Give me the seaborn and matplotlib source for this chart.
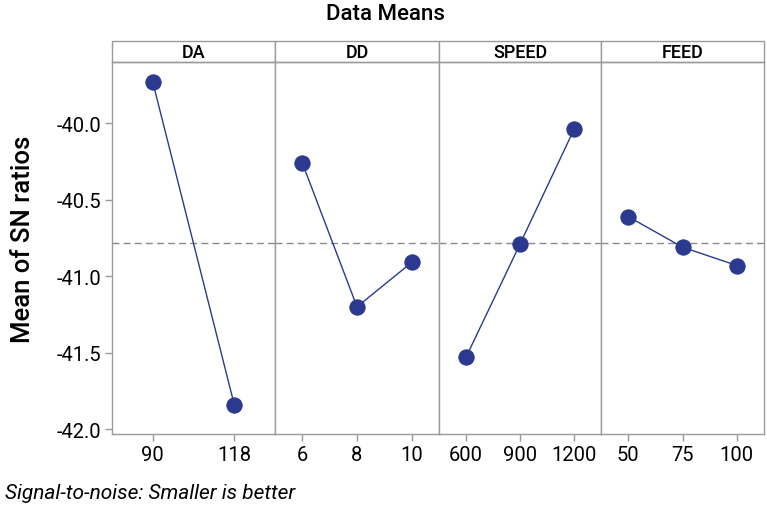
import matplotlib
matplotlib.use("Agg")
import matplotlib.pyplot as plt
from matplotlib.patches import Rectangle
import seaborn as sns
import pandas as pd

factors = ["DA", "DD", "SPEED", "FEED"]
levels = {
    "DA": ["90", "118"],
    "DD": ["6", "8", "10"],
    "SPEED": ["600", "900", "1200"],
    "FEED": ["50", "75", "100"],
}
da_means = [-39.73, -41.84]
dd_means = [-40.26, -41.20, -40.91]
speed_means = [-41.53, -40.79, -40.04]
feed_means = [-40.61, -40.81, -40.93]
yticks = [-40.0, -40.5, -41.0, -41.5, -42.0]

values = {"DA": da_means, "DD": dd_means, "SPEED": speed_means, "FEED": feed_means}
rows = []
for f in factors:
    for lv, v in zip(levels[f], values[f]):
        rows.append({"factor": f, "level": lv, "sn": v})
df = pd.DataFrame(rows)
grand_mean = sum(da_means) / len(da_means)

sns.set_style("white")
plt.rcParams["font.family"] = ["Roboto", "DejaVu Sans"]
plt.rcParams["text.color"] = "black"
plt.rcParams["xtick.color"] = "black"
plt.rcParams["ytick.color"] = "black"

fig = plt.figure(figsize=(7.67, 5.10), dpi=100)
L, R, B, T = 112 / 767, 764 / 767, 1 - 435 / 510, 1 - 63.3 / 510
widths = [163, 164, 162, 163]
tot = sum(widths)
axes = []
x0 = L
color = "#2B3A8F"
edge = "#9a9a9a"
for i, f in enumerate(factors):
    w = (R - L) * widths[i] / tot
    ax = fig.add_axes([x0, B, w, T - B])
    x0 += w
    axes.append(ax)
    sub = df[df["factor"] == f]
    sns.pointplot(data=sub, x="level", y="sn", order=levels[f], color=color,
                  errorbar=None, markersize=11, linewidth=1.0, ax=ax)
    n = len(levels[f])
    ax.set_xlim(-0.5, n - 0.5)
    ax.set_ylim(-42.032, -39.601)
    ax.axhline(grand_mean, color="#8a8a8a", linestyle=(0, (5, 3)), linewidth=1.0, zorder=0)
    for s in ax.spines.values():
        s.set_color(edge)
        s.set_linewidth(1.0)
    ax.set_xlabel("")
    ax.set_ylabel("")
    ax.tick_params(axis="x", length=5, width=1, color=edge, labelcolor="black",
                   labelsize=14.5, pad=3, direction="out", bottom=True)
    ax.set_yticks(yticks)
    if i == 0:
        ax.set_yticklabels([f"{t:.1f}" for t in yticks])
        ax.tick_params(axis="y", length=5, width=1, color=edge, labelcolor="black",
                       labelsize=14.5, pad=3, direction="out", left=True)
    else:
        ax.tick_params(axis="y", left=False, labelleft=False)
    sh = 21 / 372
    rect = Rectangle((0, 1), 1, sh, transform=ax.transAxes, clip_on=False,
                     facecolor="white", edgecolor=edge, linewidth=1.0)
    ax.add_patch(rect)
    ax.text(0.5, 1 + sh / 2, f, transform=ax.transAxes, ha="center", va="center",
            fontsize=13, fontweight="medium")

fig.text(0.03, (B + T) / 2 + 0.02, "Mean of SN ratios", rotation=90, ha="center", va="center",
         fontsize=18.5, fontweight="medium")
fig.text(385 / 767, 1 - 15 / 510, "Data Means", ha="center", va="center",
         fontsize=16, fontweight="medium")
fig.text(5 / 767, 1 - 494 / 510, "Signal-to-noise: Smaller is better", ha="left", va="center",
         fontsize=15, style="italic")

fig.savefig("out.png", dpi=100)
